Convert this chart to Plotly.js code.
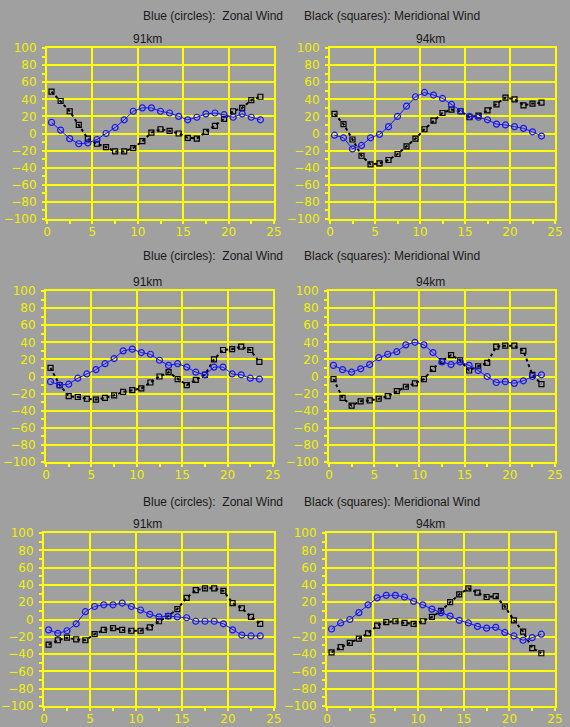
<!DOCTYPE html>
<html>
<head>
<meta charset="utf-8">
<script src="https://cdn.plot.ly/plotly-3.0.1.min.js"></script>
<style>html,body{margin:0;padding:0;background:#a0a0a0;}#chart{width:570px;height:727px;}</style>
</head>
<body>
<div id="chart"></div>
<script>
// Local time (hours)
const hours = [0.5,1.5,2.5,3.5,4.5,5.5,6.5,7.5,8.5,9.5,10.5,11.5,12.5,13.5,14.5,15.5,16.5,17.5,18.5,19.5,20.5,21.5,22.5,23.5];

const panelTitles = ["91km","94km","91km","94km","91km","94km"];
const zonalLabel = "Blue (circles):  Zonal Wind";
const meridLabel = "Black (squares): Meridional Wind";

// Row 1
const zonal1_91 = [13,4,-6,-12,-11,-7,0,7,16,26,30,30,26,24,20,16,19,23,24,22,19,23,19,16];
const merid1_91 = [49,38,26,10,-6,-12,-16,-21,-21,-17,-9,1,5,3,0,-5,-6,2,9,17,26,30,39,43];
const zonal1_94 = [-2,-5,-18,-14,-5,-1,8,20,32,43,48,45,41,34,26,20,19,16,11,10,8,6,2,-3];
const merid1_94 = [23,11,-7,-26,-36,-35,-31,-24,-15,-6,5,15,24,28,26,19,21,27,34,42,40,33,35,36];
// Row 2
const zonal2_91 = [-6,-10,-9,-2,3,8,15,21,30,32,28,26,19,13,15,11,5,2,11,11,3,2,-2,-3];
const merid2_91 = [10,-10,-23,-24,-26,-27,-25,-22,-18,-16,-14,-7,0,5,-3,-10,-4,2,20,31,32,35,31,17];
const zonal2_94 = [13,8,5,9,14,22,26,29,37,40,37,28,17,14,17,13,7,0,-7,-6,-8,-5,0,2];
const merid2_94 = [-3,-25,-34,-29,-28,-26,-23,-17,-12,-8,-3,9,18,25,19,7,12,16,35,36,36,30,2,-9];
// Row 3
const zonal3_91 = [-12,-16,-13,-5,9,15,17,17,19,15,11,6,3,4,3,2,-2,-2,-2,-5,-12,-18,-19,-19];
const merid3_91 = [-29,-24,-21,-23,-24,-17,-12,-10,-12,-13,-13,-9,-2,4,12,25,34,36,36,33,19,13,3,-5];
const zonal3_94 = [-11,-4,0,8,17,25,28,28,26,21,17,12,8,4,-1,-4,-8,-10,-9,-15,-19,-24,-21,-17];
const merid3_94 = [-38,-32,-27,-22,-16,-7,-3,-2,-4,-5,-2,3,10,20,29,36,31,26,27,15,-1,-14,-33,-39];

const zonalSets = [zonal1_91, zonal1_94, zonal2_91, zonal2_94, zonal3_91, zonal3_94];
const meridSets = [merid1_91, merid1_94, merid2_91, merid2_94, merid3_91, merid3_94];

const W = 570, H = 727;
// pixel boxes [left, right, top, bottom]
const boxes = [
  [47,274,48,219],[330,555,48,219],
  [46,273,291,462],[329,555,291,462],
  [44,274,533,706],[327,555,533,706]
];
const headerY = [16, 256, 502];

const YEL = '#ffff00';
const traces = [];
const layout = {
  width: W, height: H,
  paper_bgcolor: '#a0a0a0', plot_bgcolor: '#a0a0a0',
  margin: {l:0, r:0, t:0, b:0},
  showlegend: false,
  font: {family: 'Liberation Sans, Arial, sans-serif', color: '#1a1a1a', size: 12},
  annotations: []
};

for (let i = 0; i < 6; i++) {
  const n = i + 1;
  const xa = n === 1 ? 'x' : 'x' + n;
  const ya = n === 1 ? 'y' : 'y' + n;
  traces.push({
    x: hours, y: meridSets[i], xaxis: xa, yaxis: ya, type: 'scatter', mode: 'lines+markers',
    line: {color: '#000000', width: 2, dash: 'dot'},
    marker: {symbol: 'square-open', size: 5, color: '#000000', line: {width: 1.2, color: '#000000'}},
    cliponaxis: false
  });
  traces.push({
    x: hours, y: zonalSets[i], xaxis: xa, yaxis: ya, type: 'scatter', mode: 'lines+markers',
    line: {color: '#1515ff', width: 1},
    marker: {symbol: 'circle-open', size: 6, color: '#1515ff', line: {width: 1.2, color: '#1515ff'}},
    cliponaxis: false
  });
  const b = boxes[i];
  const axCommon = {
    showline: true, linecolor: YEL, linewidth: 2, mirror: true,
    showgrid: true, gridcolor: YEL, gridwidth: 2, zeroline: false,
    ticks: 'outside', ticklen: 3, tickwidth: 2, tickcolor: YEL,
    tickfont: {family: 'DejaVu Sans, sans-serif', size: 12, color: '#f0f000'},
    fixedrange: true
  };
  layout['xaxis' + (n === 1 ? '' : n)] = Object.assign({}, axCommon, {
    domain: [b[0]/W, b[1]/W], anchor: ya, range: [0, 25], tickmode: 'linear', tick0: 0, dtick: 5,
    minor: {dtick: 2.5, ticks: 'outside', ticklen: 3, tickwidth: 2, tickcolor: YEL, showgrid: false},
    ticklabelstandoff: -2
  });
  layout['yaxis' + (n === 1 ? '' : n)] = Object.assign({}, axCommon, {
    domain: [1 - b[3]/H, 1 - b[2]/H], anchor: xa, range: [-100, 100], tickmode: 'linear', tick0: -100, dtick: 20,
    minor: {dtick: 10, ticks: 'outside', ticklen: 3, tickwidth: 2, tickcolor: YEL, showgrid: false},
    ticklabelstandoff: 3
  });
  const cx = (i % 2 === 0) ? 147 : 430;
  layout.annotations.push({
    text: panelTitles[i], xref: 'paper', yref: 'paper', x: cx/W, y: 1 - (b[2]-9)/H,
    xanchor: 'center', yanchor: 'middle', showarrow: false, font: {size: 12, color: '#1a1a1a'}
  });
}
for (let r = 0; r < 3; r++) {
  layout.annotations.push({
    text: zonalLabel, xref: 'paper', yref: 'paper', x: 285/W, y: 1 - headerY[r]/H,
    xanchor: 'right', yanchor: 'middle', showarrow: false, font: {size: 12, color: '#1a1a1a'}
  });
  layout.annotations.push({
    text: meridLabel, xref: 'paper', yref: 'paper', x: 302/W, y: 1 - headerY[r]/H,
    xanchor: 'left', yanchor: 'middle', showarrow: false, font: {size: 12, color: '#1a1a1a'}
  });
}

Plotly.newPlot('chart', traces, layout, {staticPlot: true, displayModeBar: false});
</script>
</body>
</html>
